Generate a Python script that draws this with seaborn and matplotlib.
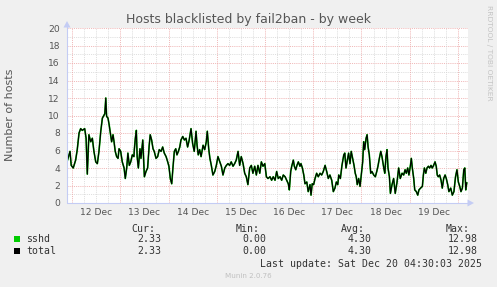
import matplotlib
matplotlib.use("Agg")
import matplotlib.pyplot as plt
from matplotlib.lines import Line2D
from matplotlib.patches import Polygon, Rectangle
import pandas as pd
import seaborn as sns

# ---------------- data ----------------
start_time = "2025-12-11 21:30"
hours = [
    0.0, 1.0, 1.5, 2.1, 3.1, 4.3, 5.1, 6.0, 6.8, 7.6, 8.8, 9.5, 10.1, 10.9, 11.8, 12.6, 13.4, 14.3, 15.1, 15.9,
    16.8, 17.6, 18.1, 18.8, 19.3, 19.7, 20.4, 21.0, 21.7, 22.2, 22.9, 23.4, 24.0, 24.7, 25.4, 25.9, 26.7, 27.5,
    28.4, 29.0, 29.7, 30.3, 31.0, 31.7, 32.5, 33.3,
    33.5, 34.0, 34.5, 34.9, 35.5, 36.3, 36.8, 37.7, 38.5, 39.3, 40.1, 40.9, 41.4, 42.1, 42.8, 43.4, 44.3, 45.1,
    45.9, 46.8, 47.6, 48.4, 49.3, 50.1, 50.7, 51.4, 52.1, 52.7, 53.4, 54.1, 54.7, 55.4, 56.1, 56.7, 57.6, 58.4,
    59.2, 60.0, 60.8, 61.7, 62.5, 63.3, 64.2, 64.7, 65.3, 66.0, 66.7,
    67.7, 68.5, 69.3, 69.8, 70.5, 71.1, 71.8, 72.6, 73.5, 74.3, 75.1, 76.0, 76.8, 77.6, 78.5, 79.3, 80.1, 80.9,
    81.7, 82.6, 83.4, 84.2, 85.1, 85.9, 86.7, 87.6, 88.4, 89.2, 90.0, 90.9, 91.7, 92.5, 93.4, 94.2, 95.0, 95.9,
    96.7, 97.5, 98.4, 99.2, 100.0,
    101.0, 101.8, 102.6, 103.5, 104.3, 105.1, 106.0, 106.8, 107.6, 108.5, 109.3, 110.1, 110.6, 111.3, 111.8,
    112.6, 113.1, 113.8, 114.4, 115.1, 115.9, 116.4, 117.1, 117.8, 118.4, 119.3, 120.0, 120.9, 121.4, 122.0,
    122.7, 123.4, 124.2, 125.0, 125.9, 126.7, 127.5, 128.4, 129.2, 130.0, 130.8, 131.7, 132.5, 133.3,
    134.0, 134.7, 135.2, 136.0, 136.8, 137.7, 138.2, 138.8, 139.5, 140.1, 140.8, 141.4, 142.1, 142.8, 143.4,
    143.9, 144.4, 145.1, 145.8, 146.4, 147.1, 147.6, 148.1, 148.8, 149.3, 149.8, 150.4, 151.1, 151.7, 152.6,
    153.4, 154.1, 154.7, 155.4, 156.1, 156.7, 157.6, 158.1, 158.7, 159.2, 159.7, 160.4, 160.9, 161.7, 162.5,
    163.3, 164.2, 165.0, 165.8, 166.7,
    167.5, 168.2, 168.8, 169.5, 170.1, 170.8, 171.3, 171.8, 172.5, 173.0, 173.8, 174.5, 175.1, 175.9, 176.8,
    177.3, 177.8, 178.5, 179.1, 179.8, 180.4, 181.1, 181.7, 182.4, 183.1, 183.7, 184.2, 184.7, 185.4, 186.1,
    186.7, 187.4, 188.1, 188.7, 189.4, 190.0, 190.9, 191.7, 192.5, 193.3, 194.0, 194.7, 195.4, 196.0, 196.7,
    197.4, 197.9, 198.4, 198.9,
]
sshd = [
    4.7, 5.5, 5.9, 4.3, 4.0, 4.9, 6.1, 8.0, 8.5, 8.3, 8.5, 7.4, 3.3, 7.8, 7.0, 7.4, 5.9, 4.7, 4.5, 5.9,
    8.2, 9.7, 9.9, 10.2, 12.0, 9.9, 9.7, 8.9, 7.8, 7.0, 7.8, 7.0, 5.9, 5.3, 5.1, 6.2, 5.9, 4.7,
    4.0, 2.8, 4.0, 5.7, 4.3, 4.7, 5.5, 5.3,
    6.1, 7.4, 8.3, 5.3, 4.0, 6.2, 5.1, 7.2, 3.0, 3.6, 4.0, 6.6, 7.8, 7.2, 6.2, 5.9, 5.1, 5.3,
    6.1, 5.9, 6.4, 5.7, 5.3, 4.7, 4.2, 2.8, 2.2, 4.0, 5.9, 6.2, 5.5, 5.9, 6.4, 7.2, 7.6, 7.2,
    7.4, 6.4, 7.2, 8.5, 6.8, 5.9, 8.2, 6.6, 5.5, 6.1, 5.3,
    6.6, 6.1, 7.0, 8.2, 6.2, 5.1, 4.3, 3.2, 3.6, 4.3, 5.3, 4.7, 4.2, 3.2, 4.0, 4.3, 4.5, 4.3,
    4.7, 4.2, 4.5, 4.9, 5.9, 4.3, 5.3, 4.5, 3.4, 3.0, 2.1, 4.0, 4.3, 3.4, 4.2, 3.2, 4.3, 3.4,
    4.7, 4.2, 4.5, 3.0, 2.8,
    3.0, 2.6, 3.0, 2.6, 3.6, 2.8, 3.0, 2.6, 3.2, 3.0, 2.6, 2.2, 1.5, 3.6, 4.2,
    4.9, 4.2, 3.8, 4.3, 4.7, 4.2, 4.5, 4.0, 3.2, 2.2, 2.4, 1.3, 2.1, 0.9, 2.2,
    2.1, 2.8, 3.4, 3.0, 3.4, 3.2, 3.6, 4.3, 3.6, 2.8, 3.2, 2.6, 1.3, 1.7,
    2.4, 2.1, 3.2, 2.8, 4.3, 5.5, 5.7, 4.0, 4.9, 5.7, 4.5, 5.9, 5.1, 4.3, 3.4,
    3.0, 2.1, 2.8, 1.9, 3.2, 4.7, 7.0, 6.1, 7.4, 7.8, 6.4, 5.5, 3.4, 3.6, 3.2,
    3.0, 3.6, 4.2, 5.1, 5.9, 5.3, 4.0, 3.4, 5.3, 6.1, 4.0, 3.0, 1.1, 2.1, 2.8,
    1.1, 2.4, 4.0, 2.8, 3.4,
    3.2, 3.8, 3.4, 4.0, 3.2, 4.2, 5.1, 4.0, 2.8, 1.5, 1.3, 0.9, 1.5, 1.7, 1.9,
    3.2, 4.0, 3.4, 4.0, 4.2, 4.0, 4.3, 4.0, 4.3, 4.7, 4.2, 3.2, 3.0, 3.2, 2.6,
    1.7, 2.8, 3.2, 2.8, 2.1, 1.3, 1.7, 0.9, 1.3, 3.0, 3.8, 2.4, 1.9, 1.3, 1.7,
    3.8, 4.0, 1.5, 2.33,
]
total = list(sshd)

day_labels = ["12 Dec", "13 Dec", "14 Dec", "15 Dec", "16 Dec", "17 Dec", "18 Dec", "19 Dec"]
series_names = ["sshd", "total"]
series_colors = ["#00cc00", "#000000"]
stat_headers = ["Cur:", "Min:", "Avg:", "Max:"]
sshd_stats = ["2.33", "0.00", "4.30", "12.98"]
total_stats = ["2.33", "0.00", "4.30", "12.98"]
title = "Hosts blacklisted by fail2ban - by week"
ylabel = "Number of hosts"
last_update = "Last update: Sat Dec 20 04:30:03 2025"
footer = "Munin 2.0.76"
side_text = "RRDTOOL / TOBI OETIKER"

# ---------------- figure ----------------
W, H = 497, 287
sns.set_theme(style="white")
plt.rcParams["font.family"] = ["DejaVu Sans"]

def fx(x):
    return x / W

def fy(y):
    return 1 - y / H

t0 = pd.Timestamp(start_time)
times = t0 + pd.to_timedelta(hours, unit="h")
df = pd.DataFrame({"time": times, "sshd": sshd, "total": total})

fig = plt.figure(figsize=(W / 100, H / 100), dpi=100, facecolor="#f0f0f0")
L, T, R, B = 67, 28, 468, 203
ax = fig.add_axes([fx(L), fy(B), (R - L) / W, (B - T) / H])
ax.set_facecolor("white")
for s in ax.spines.values():
    s.set_visible(False)

t_end = t0 + pd.Timedelta(hours=199.5)
ax.set_xlim(t0, t_end)
ax.set_ylim(0, 20)

# grid (dotted, 1px on / 1px off)
dot = (0, (1.4, 1.4))
red_grid = "#eca6a6"
grey_grid = "#d6d6d6"
for v in range(1, 21):
    ax.axhline(v, color=red_grid if v % 2 == 0 else grey_grid, lw=0.55, ls=dot, zorder=1)
for g in pd.date_range("2025-12-12 00:00", t_end, freq="6h"):
    ax.axvline(g, color=red_grid if g.hour == 0 else grey_grid, lw=0.55, ls=dot, zorder=1)

sns.lineplot(data=df, x="time", y="sshd", color=series_colors[0], lw=1.2, ax=ax, zorder=3)
sns.lineplot(data=df, x="time", y="total", color=series_colors[1], lw=0.85, ax=ax, zorder=4)

ax.set_xlabel("")
ax.set_ylabel("")
noon = [pd.Timestamp(f"2025-12-{12 + i} 12:00") for i in range(len(day_labels))]
ax.set_xticks(noon)
ax.set_xticklabels(day_labels)
ax.set_yticks(range(0, 21, 2))
ax.set_yticklabels([str(v) for v in range(0, 21, 2)])
ax.tick_params(axis="both", length=0, labelsize=6.6, colors="#555555")
ax.tick_params(axis="x", pad=3.8)
ax.tick_params(axis="y", pad=5)

# axis lines with arrows
axc = "#c4ccf4"
fig.add_artist(Line2D([fx(L), fx(L)], [fy(B), fy(24)], color=axc, lw=0.8))
fig.add_artist(Line2D([fx(L), fx(470)], [fy(B), fy(B)], color=axc, lw=0.8))
fig.add_artist(Polygon([[fx(L), fy(21)], [fx(L - 3.5), fy(27.5)], [fx(L + 3.5), fy(27.5)]],
                       closed=True, color=axc, lw=0))
fig.add_artist(Polygon([[fx(474), fy(B)], [fx(467.5), fy(B - 3.5)], [fx(467.5), fy(B + 3.5)]],
                       closed=True, color=axc, lw=0))

# texts
fig.text(fx(248.5), fy(19), title, ha="center", va="center", fontsize=9, color="#555555")
fig.text(fx(10), fy(115), ylabel, ha="center", va="center", rotation=90, fontsize=8, color="#555555")
fig.text(fx(488.5), fy(53), side_text, ha="center", va="center", rotation=270, fontsize=5.4, color="#c4c4c4")

mono = "DejaVu Sans Mono"
lc = "#333333"
fs = 7.15
head_right = [155, 259.3, 365, 470]
val_right = [161, 266.7, 371.7, 477.3]
for hx, hd in zip(head_right, stat_headers):
    fig.text(fx(hx), fy(228.5), hd, ha="right", va="center", family=mono, fontsize=fs, color=lc)
for row_y, name, col, stats in [(239.5, series_names[0], series_colors[0], sshd_stats),
                                (251, series_names[1], series_colors[1], total_stats)]:
    fig.add_artist(Rectangle((fx(14), fy(row_y + 2.7)), 6 / W, 6 / H, color=col, lw=0))
    fig.text(fx(26.5), fy(row_y), name, ha="left", va="center", family=mono, fontsize=fs, color=lc)
    for vx, sv in zip(val_right, stats):
        fig.text(fx(vx), fy(row_y), sv, ha="right", va="center", family=mono, fontsize=fs, color=lc)
fig.text(fx(482), fy(263.7), last_update, ha="right", va="center", family=mono, fontsize=fs, color=lc)
fig.text(fx(248), fy(276.5), footer, ha="center", va="center", fontsize=5.1, color="#c0c0c0")

fig.savefig("out.png", dpi=100, facecolor=fig.get_facecolor())
